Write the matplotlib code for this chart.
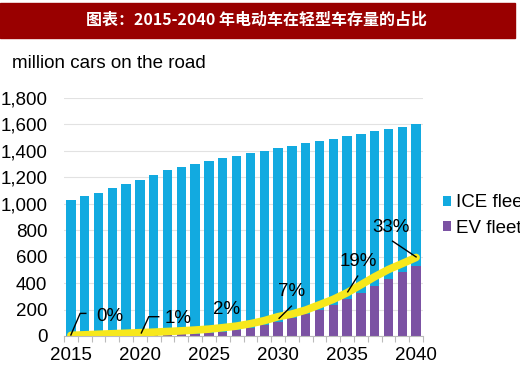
import matplotlib
matplotlib.use("Agg")
import matplotlib.pyplot as plt
import numpy as np
from matplotlib.patches import Rectangle

plt.rcParams['font.family'] = ['Liberation Sans', 'DejaVu Sans']

years = np.arange(2015, 2041)
# total fleet (million cars), EV part, yellow EV curve
total = [1026, 1059, 1085, 1120, 1147, 1182, 1217, 1253, 1275, 1300,
         1323, 1345, 1364, 1381, 1398, 1419, 1436, 1457, 1474, 1492,
         1509, 1525, 1549, 1565, 1582, 1602]
ev = [1, 1.5, 2, 3, 4, 5, 7, 9, 12, 17,
      22, 30, 45, 63, 83, 103, 134, 164, 196, 234,
      279, 327, 377, 428, 481, 528]
ev_line = [5, 9, 13, 17, 21, 25, 29, 34, 39, 45,
           52, 63, 75, 93, 116, 146, 166, 196, 236, 277,
           327, 387, 448, 503, 548, 594]
ice = [t - e for t, e in zip(total, ev)]

share_labels = ['0%', '1%', '2%', '7%', '19%', '33%']
# text position (year, value) and leader path
label_pos = [(2017.8, 151), (2022.8, 136), (2026.3, 204),
             (2031.0, 334), (2035.8, 566), (2038.2, 820)]
leaders = [[(2015, 8), (2015.67, 171), (2016.08, 171)],
           [(2020.1, 23), (2020.64, 146), (2021.36, 146)],
           None,
           [(2030.08, 134), (2030.97, 226)],
           [(2035.05, 334), (2035.77, 453)],
           [(2038.3, 717), (2040.0, 598)]]

blue = '#12aae0'
purple = '#7b52a3'
yellow = '#f7e81c'
fs = 13.5

fig = plt.figure(figsize=(5.2, 3.72), dpi=100, facecolor='w')

# title bar
fig.patches.append(Rectangle((0, 1 - 38 / 372.), 515 / 520., 35 / 372.,
                             transform=fig.transFigure, color='#990000', zorder=0))
fig.text(257 / 520., 1 - 20 / 372., u'图表：2015-2040 年电动车在轻型车存量的占比',
         color='w', fontsize=11.5, ha='center', va='center',
         family=['Noto Sans CJK SC', 'DejaVu Sans'], weight='bold')

ax = fig.add_axes([64 / 520., 36 / 372., 359 / 520., 238 / 372.])
w = 0.68
b_ev = ax.bar(years, ev, width=w, color=purple, zorder=2)
b_ice = ax.bar(years, ice, width=w, bottom=ev, color=blue, zorder=2)
ax.plot(years, ev_line, color=yellow, lw=5.5, zorder=3, solid_capstyle='round')

for lab, pos, ld in zip(share_labels, label_pos, leaders):
    ax.text(pos[0], pos[1], lab, fontsize=fs, ha='center', va='center', zorder=5)
    if ld:
        ax.plot([p[0] for p in ld], [p[1] for p in ld], color='k', lw=1, zorder=4)

ax.set_xlim(2014.5, 2040.45)
ax.set_ylim(0, 1800)
ax.set_yticks(np.arange(0, 1801, 200))
ax.set_yticklabels(['{:,}'.format(v) for v in range(0, 1801, 200)])
ax.set_xticks([2015, 2020, 2025, 2030, 2035, 2040])
ax.set_xticks(np.arange(2014.5, 2041, 1), minor=True)
ax.tick_params(axis='x', which='major', length=0, pad=8, labelsize=fs)
ax.tick_params(axis='x', which='minor', length=4, color='#bbbbbb', width=0.8)
ax.tick_params(axis='y', length=0, pad=12, labelsize=fs)
ax.yaxis.grid(True, color='#e2e2e2', lw=0.8, zorder=0)
ax.set_axisbelow(True)
for s in ['top', 'right', 'left']:
    ax.spines[s].set_visible(False)
ax.spines['bottom'].set_color('#bbbbbb')

fig.text(12 / 520., 1 - 64 / 372., 'million cars on the road', fontsize=fs,
         ha='left', va='center')

fig.legend([b_ice, b_ev], ['ICE fleet', 'EV fleet'], loc='upper left',
           bbox_to_anchor=(434 / 520., 1 - 185 / 372.), frameon=False,
           fontsize=fs, handlelength=0.42, handleheight=0.42,
           handletextpad=0.25, labelspacing=0.44, borderpad=0)

fig.savefig('out.png', dpi=100)
